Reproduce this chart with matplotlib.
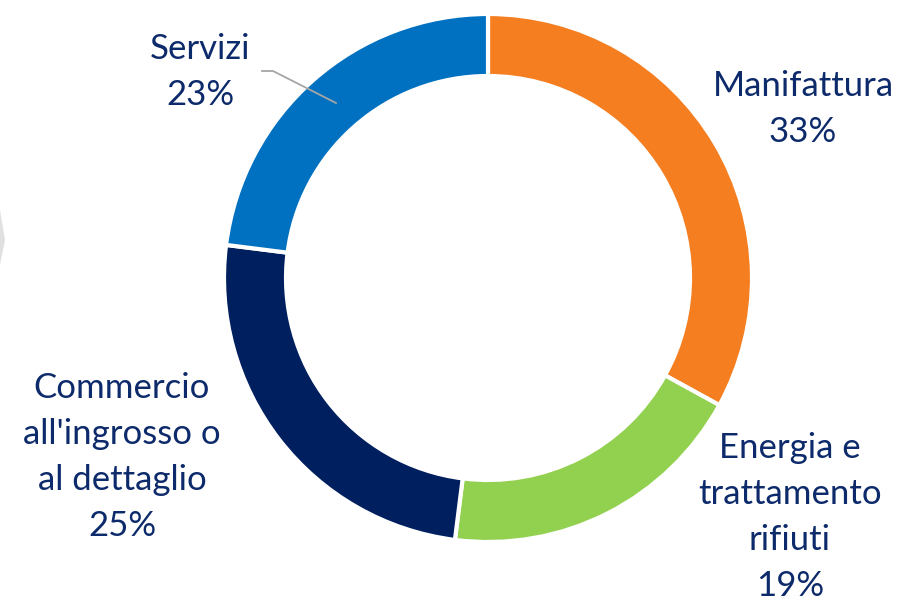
import matplotlib.pyplot as plt
from matplotlib.patches import Polygon

settori = ["Manifattura", "Energia e\ntrattamento\nrifiuti", "Commercio\nall'ingrosso o\nal dettaglio", "Servizi"]
quote = [33, 19, 25, 23]
colori = ["#F47E20", "#92D050", "#001F5F", "#0070C0"]

testo = "#0D2A6B"

fig = plt.figure(figsize=(9.03, 6), dpi=100)
ax = fig.add_axes([0, 0, 1, 1])
ax.set_xlim(0, 903)
ax.set_ylim(0, 600)
ax.set_aspect("equal")
ax.axis("off")

ax.pie(quote, colors=colori, startangle=90, counterclock=False,
       center=(488, 322), radius=264,
       wedgeprops=dict(width=62, edgecolor="white", linewidth=3))
ax.set_xlim(0, 903)
ax.set_ylim(0, 600)

# etichette
posizioni = [(803, 530), (790, 168), (122, 228), (200, 567)]
for nome, q, (x, y) in zip(settori, quote, posizioni):
    ax.text(x, y, nome + "\n" + str(q) + "%", ha="center", va="top",
            fontsize=25, color=testo, family="Lato", linespacing=1.54)

# linea guida Servizi
ax.plot([262, 273, 336], [529, 529, 497], color="#A6A6A6", lw=1.3)

# forma grigia sul bordo sinistro
ax.add_patch(Polygon([(0, 390), (5, 360), (0, 335)], closed=True,
                     facecolor="#E0E0E0", edgecolor="none"))

fig.savefig("out.png", dpi=100)
